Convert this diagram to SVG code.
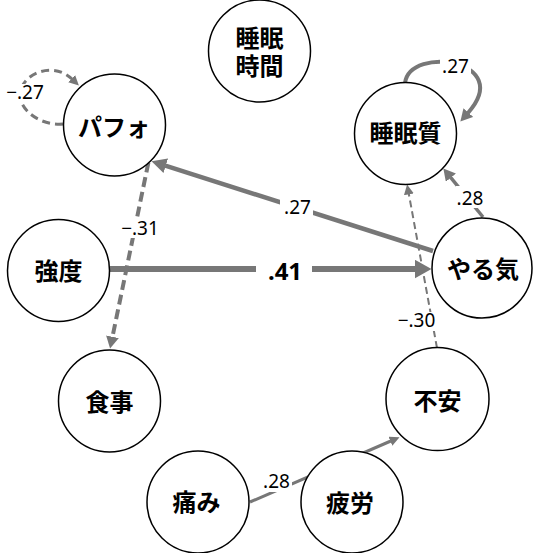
<svg xmlns="http://www.w3.org/2000/svg" width="536" height="553" viewBox="0 0 536 553">
<style>
.node circle{fill:#fff;stroke:#000;stroke-width:1.5}
.node text{font-family:"Noto Sans CJK JP","Noto Sans CJK SC",sans-serif;font-size:24px;font-weight:bold;text-anchor:middle;fill:#000}
.edge{fill:none;stroke:#777}
.bg{fill:#fff}
.lbl{font-family:"Noto Sans","Open Sans",sans-serif;font-size:19px;text-anchor:middle;fill:#000}
</style>
<defs>
<marker id="aL" markerUnits="userSpaceOnUse" markerWidth="17" markerHeight="19" viewBox="0 0 17 19" refX="0.5" refY="9.5" orient="auto"><path d="M0,0 L17,9.5 L0,19 z" fill="#777"/></marker>
<marker id="aM" markerUnits="userSpaceOnUse" markerWidth="15" markerHeight="15" viewBox="0 0 15 15" refX="0.5" refY="7.5" orient="auto"><path d="M0,0 L15,7.5 L0,15 z" fill="#777"/></marker>
<marker id="aS" markerUnits="userSpaceOnUse" markerWidth="12" markerHeight="13" viewBox="0 0 12 13" refX="0.5" refY="6.5" orient="auto"><path d="M0,0 L12,6.5 L0,13 z" fill="#777"/></marker>
<marker id="aT" markerUnits="userSpaceOnUse" markerWidth="10" markerHeight="10" viewBox="0 0 10 10" refX="0.5" refY="5" orient="auto"><path d="M0,0 L10,5 L0,10 z" fill="#777"/></marker>
</defs>
<g id="connectors">
<path class="edge" d="M110,269 L415,269" stroke-width="6" marker-end="url(#aL)"/>
<path class="edge" d="M433,251 L165.3,165.6" stroke-width="4.5" marker-end="url(#aM)"/>
<path class="edge" d="M148.4,162.5 L112.4,337.2" stroke-width="4" stroke-dasharray="10,5" marker-end="url(#aS)"/>
<path class="edge" d="M63,124 C40,126 20,110 20,95 C20,75 52,60 72,79" stroke-width="3" stroke-dasharray="8,5" marker-end="url(#aT)"/>
<path class="edge" d="M405,83 C410,45 515,60 468,113" stroke-width="4" marker-end="url(#aS)"/>
<path class="edge" d="M483,217 L450.6,177.3" stroke-width="3.5" marker-end="url(#aS)"/>
<path class="edge" d="M437,348 L408.8,193.8" stroke-width="2" stroke-dasharray="7,4" marker-end="url(#aT)"/>
<path class="edge" d="M250,502 L390.8,441" stroke-width="3" marker-end="url(#aT)"/>
</g>
<g id="n-sleep-time" class="node"><circle cx="259.5" cy="51" r="51"/><text x="259.5" y="46.5">睡眠</text><text x="259.5" y="75">時間</text></g>
<g id="n-perf" class="node"><circle cx="114.5" cy="125" r="51"/><text x="114" y="136">パフォ</text></g>
<g id="n-sleep-quality" class="node"><circle cx="405.5" cy="133.5" r="51"/><text x="405.5" y="142">睡眠質</text></g>
<g id="n-intensity" class="node"><circle cx="58.5" cy="270.5" r="51"/><text x="58.5" y="279.5">強度</text></g>
<g id="n-motivation" class="node"><circle cx="482" cy="268" r="50"/><text x="483" y="278">やる気</text></g>
<g id="n-meal" class="node"><circle cx="109.5" cy="401" r="51"/><text x="109.5" y="411">食事</text></g>
<g id="n-anxiety" class="node"><circle cx="437.5" cy="399" r="51.5"/><text x="437.5" y="410">不安</text></g>
<g id="n-pain" class="node"><circle cx="198" cy="502" r="51"/><text x="196.5" y="511">痛み</text></g>
<g id="n-fatigue" class="node"><circle cx="352" cy="502" r="51"/><text x="350" y="512">疲労</text></g>
<g id="labels">
<rect class="bg" x="7" y="84" width="37" height="18"/>
<rect class="bg" x="440" y="57" width="31" height="20"/>
<rect class="bg" x="280" y="197" width="33" height="21"/>
<rect class="bg" x="456" y="186" width="29" height="22"/>
<rect class="bg" x="121" y="220" width="38" height="18"/>
<rect class="bg" x="256" y="258" width="56" height="24"/>
<rect class="bg" x="397" y="312" width="40" height="19"/>
<rect class="bg" x="262" y="472" width="30" height="20"/>
<text class="lbl" x="25" y="99">−.27</text>
<text class="lbl" x="455.5" y="73">.27</text>
<text class="lbl" x="297.5" y="214">.27</text>
<text class="lbl" x="470" y="205">.28</text>
<text class="lbl" x="140" y="235">−.31</text>
<text class="lbl" x="285" y="280" style="font-size:24px;font-weight:bold">.41</text>
<text class="lbl" x="416.5" y="327">−.30</text>
<text class="lbl" x="276.5" y="488">.28</text>
</g>
</svg>
